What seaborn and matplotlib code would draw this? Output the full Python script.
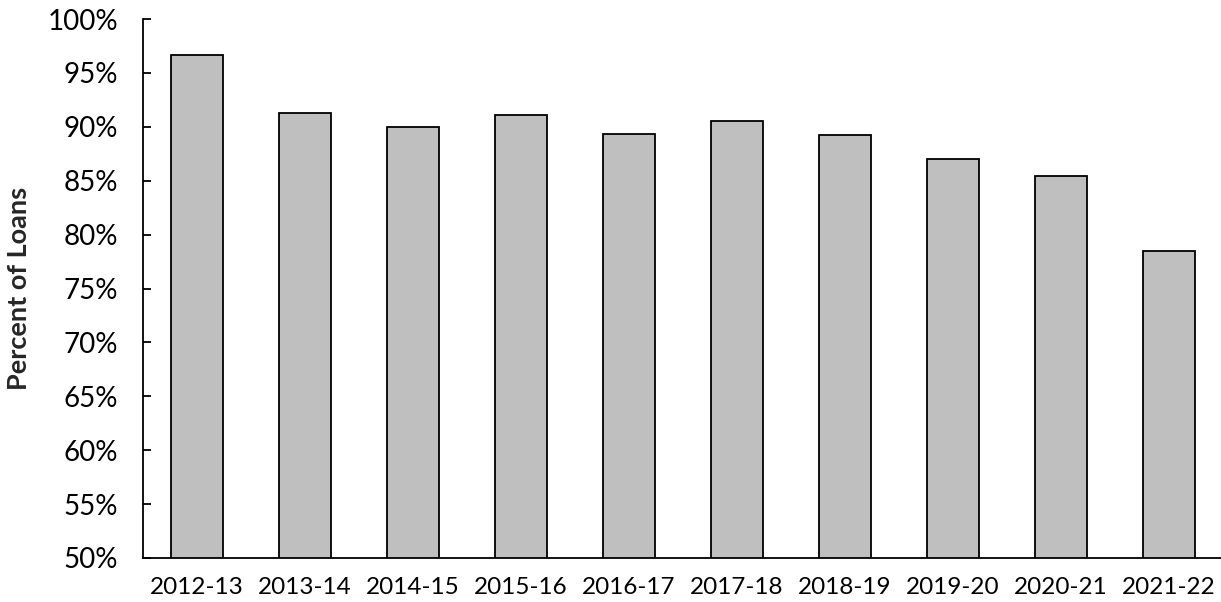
import matplotlib
matplotlib.use("Agg")
import matplotlib.pyplot as plt
from matplotlib.ticker import PercentFormatter
import seaborn as sns
import pandas as pd

years = ["2012-13", "2013-14", "2014-15", "2015-16", "2016-17",
         "2017-18", "2018-19", "2019-20", "2020-21", "2021-22"]
pct_loans = [96.7, 91.3, 90.0, 91.1, 89.3, 90.5, 89.2, 87.0, 85.4, 78.5]

sns.set_theme(style="white")
plt.rcParams['font.family'] = ['Lato', 'DejaVu Sans']

df = pd.DataFrame({"year": years, "pct": pct_loans})

fig = plt.figure(figsize=(12.21, 6.02), dpi=100)
ax = fig.add_axes([143 / 1221, 44 / 602, 1080 / 1221, 539 / 602])

sns.barplot(data=df, x="year", y="pct", color="#BFBFBF", saturation=1,
            width=0.49, edgecolor="black", linewidth=1.3, ax=ax)

ax.set_ylim(50, 100)
ax.set_xlim(-0.5, 9.5)
ax.set_yticks(range(50, 101, 5))
ax.yaxis.set_major_formatter(PercentFormatter(decimals=0))
ax.tick_params(axis="y", direction="in", length=6, width=1.3, left=True,
               labelsize=20, pad=18, colors="black")
ax.tick_params(axis="x", length=0, labelsize=17.5, pad=14, colors="black")
ax.set_xlabel("")
ax.set_ylabel("Percent of Loans", fontsize=19.5, fontweight="bold", labelpad=12)

for side in ["top", "right"]:
    ax.spines[side].set_visible(False)
for side in ["left", "bottom"]:
    ax.spines[side].set_color("black")
    ax.spines[side].set_linewidth(1.3)

fig.savefig("out.png", dpi=100)
